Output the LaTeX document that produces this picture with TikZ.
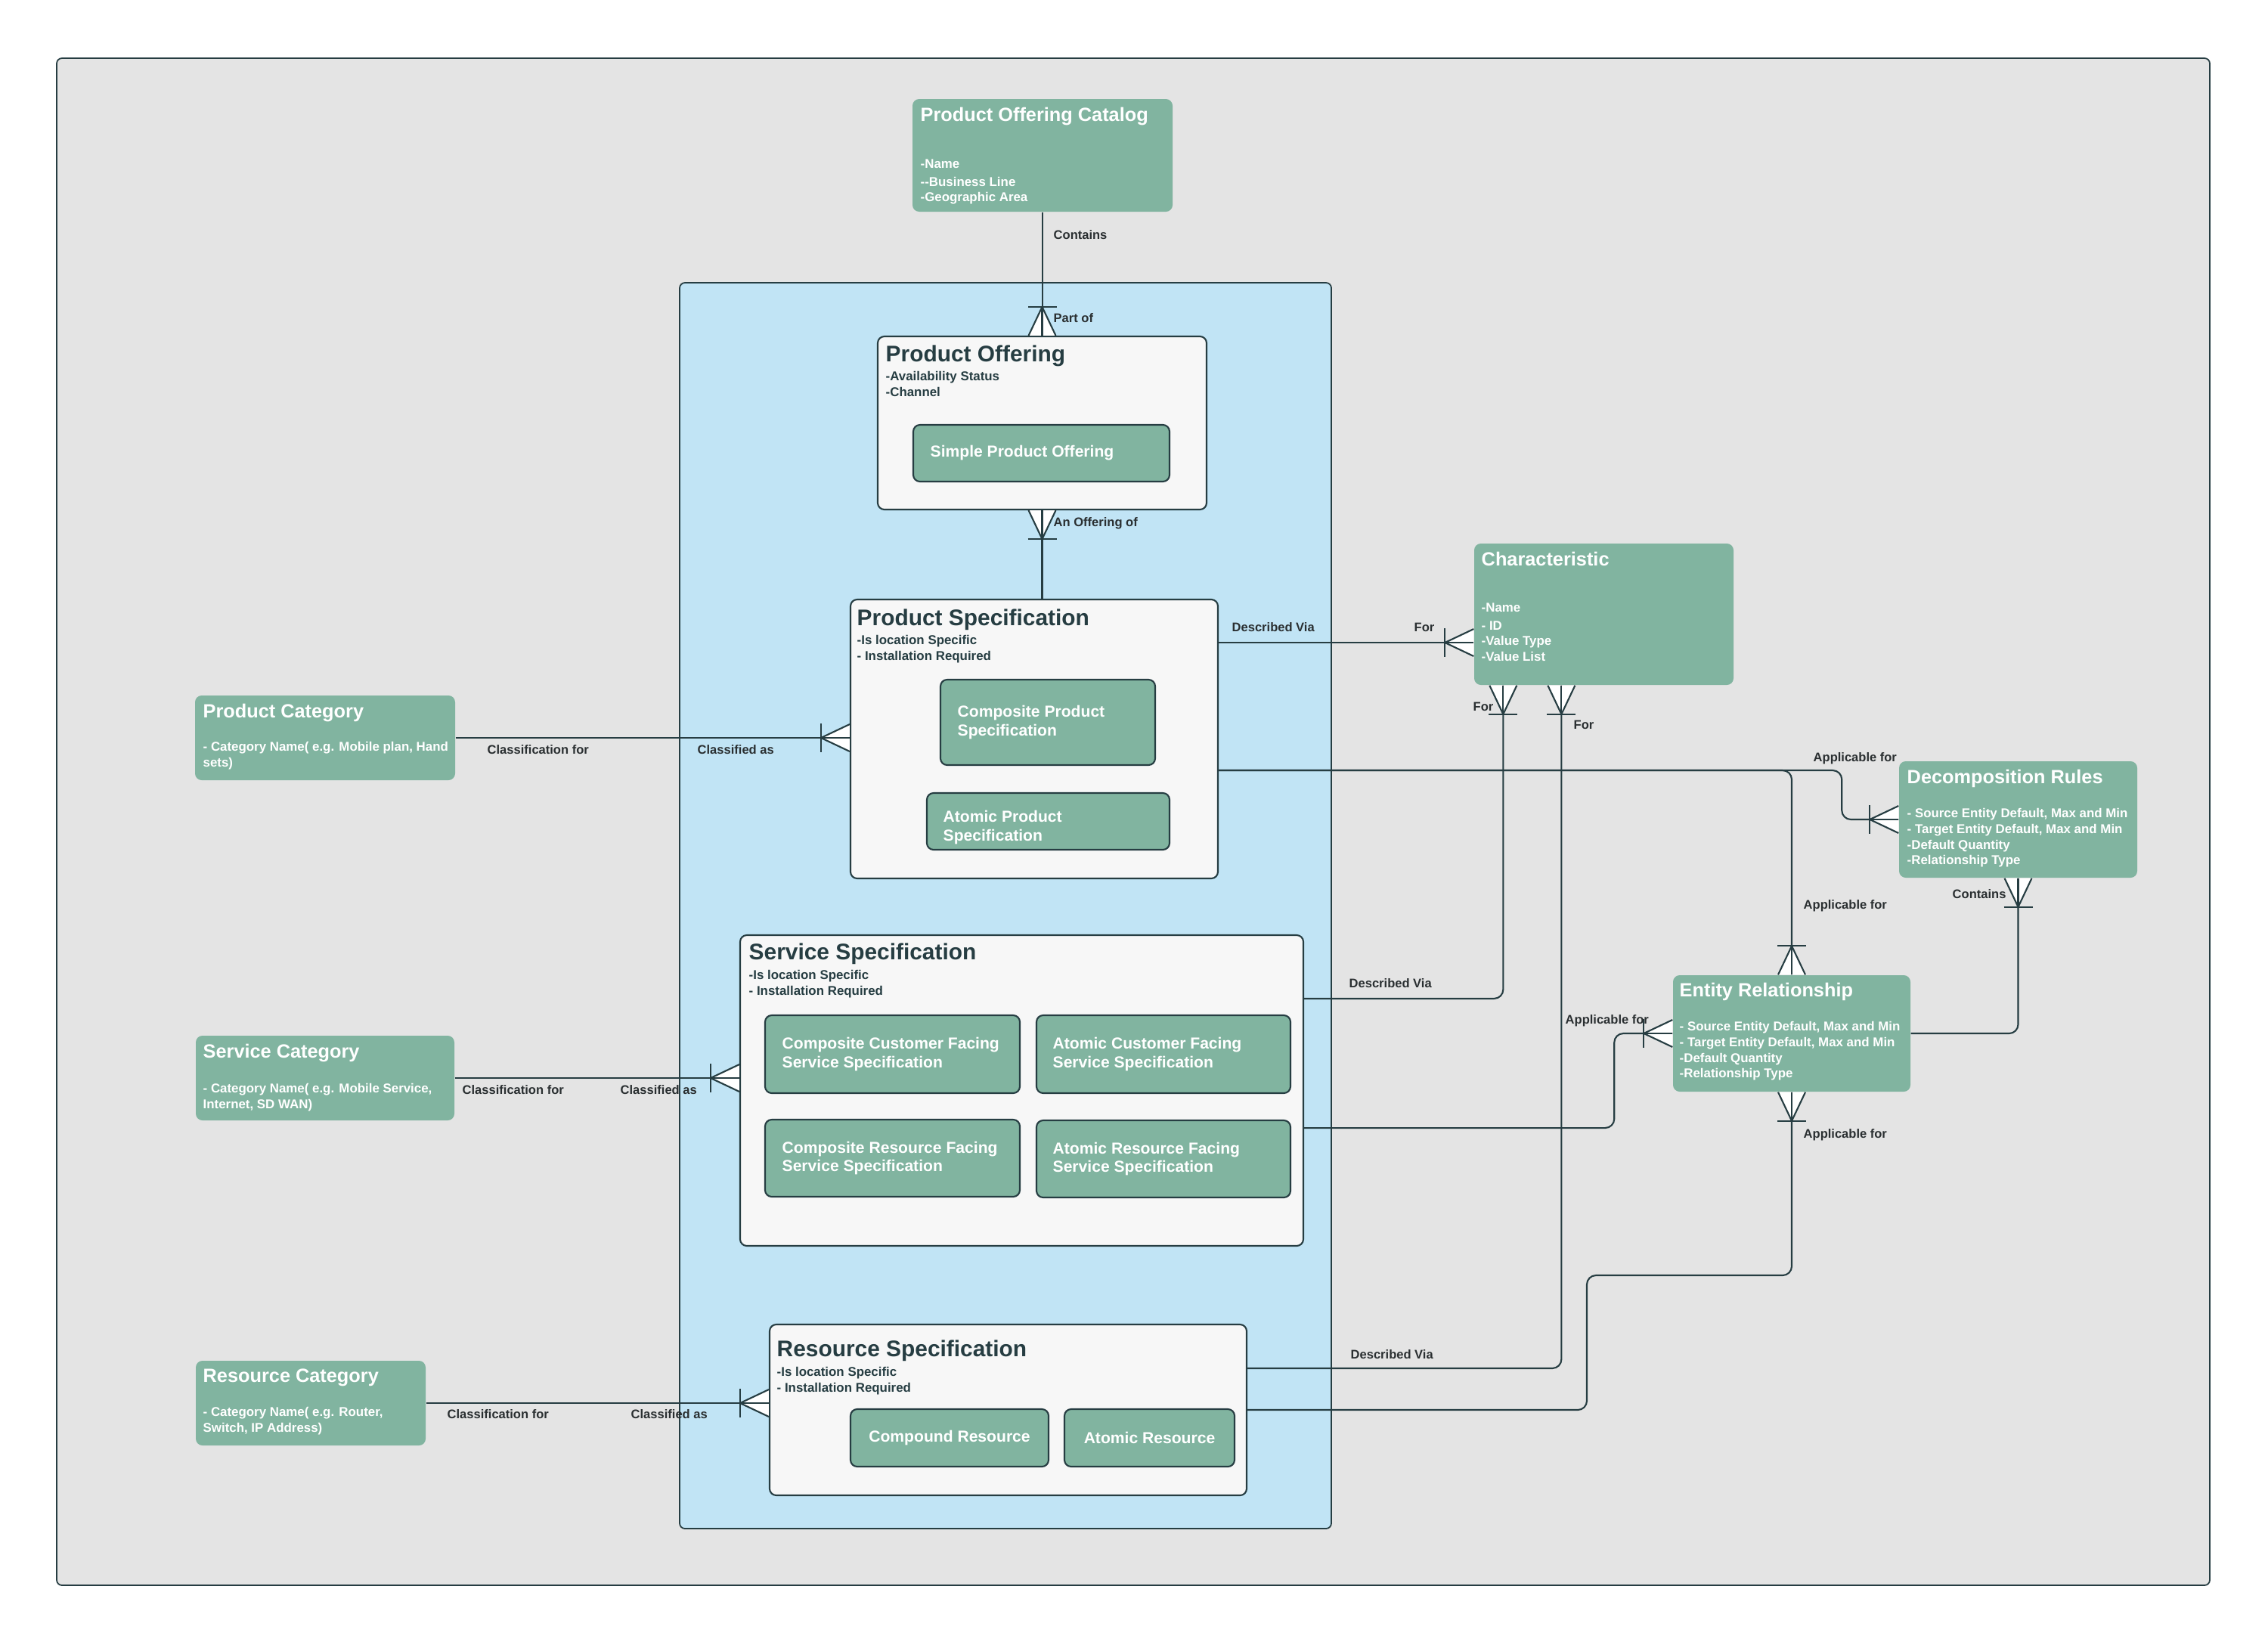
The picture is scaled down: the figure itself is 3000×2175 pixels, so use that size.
\documentclass[tikz,border=0pt]{standalone}
\usepackage{fontspec}
\setmainfont{Liberation Sans}
\usepackage{tikz}
\usetikzlibrary{fit}
\definecolor{framebg}{HTML}{E4E4E4}
\definecolor{poolblue}{HTML}{C1E4F5}
\definecolor{sage}{HTML}{81B4A0}
\definecolor{paper}{HTML}{F7F7F7}
\definecolor{ink}{HTML}{263D42}
\definecolor{labelink}{HTML}{2A2F31}
\tikzset{
  framebox/.style={rectangle,rounded corners=2pt,fill=framebg,draw=ink,line width=0.5pt,inner sep=0pt},
  poolbox/.style={rectangle,rounded corners=2pt,fill=poolblue,draw=ink,line width=0.5pt,inner sep=0pt},
  gbox/.style={rectangle,rounded corners=2.5pt,fill=sage,draw=none,inner sep=0pt},
  sbox/.style={rectangle,rounded corners=2.5pt,fill=sage,draw=ink,line width=0.6pt,inner sep=0pt},
  wbox/.style={rectangle,rounded corners=2.5pt,fill=paper,draw=ink,line width=0.6pt,inner sep=0pt},
  gtitle/.style={anchor=base west,inner sep=0pt,text=white,font=\fontsize{7.2}{8.6}\selectfont\bfseries},
  gbody/.style={anchor=north west,inner sep=0pt,align=left,text=white,font=\fontsize{4.8}{5.85}\selectfont\bfseries},
  wtitle/.style={anchor=base west,inner sep=0pt,text=ink,font=\fontsize{8.5}{10}\selectfont\bfseries},
  wbody/.style={anchor=north west,inner sep=0pt,align=left,text=ink,font=\fontsize{4.8}{5.85}\selectfont\bfseries},
  stext/.style={anchor=west,inner sep=0pt,align=left,text=white,font=\fontsize{6}{7.1}\selectfont\bfseries},
  conn/.style={draw=ink,line width=0.6pt,rounded corners=1.2mm},
  foot/.style={draw=ink,line width=0.6pt,fill=white,sharp corners},
  rel/.style={anchor=base west,inner sep=0pt,text=labelink,font=\fontsize{4.7}{5.6}\selectfont\bfseries}
}
% crow's foot at a box edge, #2 = direction pointing away from the box
\newcommand{\crowfoot}[2]{%
  \begin{scope}[shift={#1},rotate=#2]
    \filldraw[foot] (0,18) -- (38,0) -- (0,-18);
    \draw[foot] (0,0) -- (38,0) (38,19) -- (38,-19);
  \end{scope}}

\begin{document}
\begin{tikzpicture}[x=0.01cm,y=-0.01cm]
  \fill[white] (0,0) rectangle (3000,2175);
  \node[framebox, fit={(75,77) (2923,2097)}] (canvas) {};
  \node[poolbox, fit={(899,374) (1761,2022)}] (pool) {};

  % catalog
  \node[gbox, fit={(1207,131) (1551,280)}] (cat) {};
  \node[gtitle] (catT) at (1217,160) {Product Offering Catalog};
  \node[gbody] (catB) at (1217,210) {-Name\\[1pt]-{}-Business Line\\-Geographic Area};

  % product offering
  \node[wbox, fit={(1161,445) (1596,674)}] (po) {};
  \node[wtitle] (poT) at (1171,478) {Product Offering};
  \node[wbody] (poB) at (1171,491) {-Availability Status\\-Channel};
  \node[sbox, fit={(1208,562) (1547,637)}] (spo) {};
  \node[stext] (spoT) at ([xshift=2.3mm]spo.west) {Simple Product Offering};

  % product specification
  \node[wbox, fit={(1125,793) (1611,1162)}] (ps) {};
  \node[wtitle] (psT) at (1133,827) {Product Specification};
  \node[wbody] (psB) at (1133,840) {-Is location Specific\\- Installation Required};
  \node[sbox, fit={(1244,899) (1528,1012)}] (cps) {};
  \node[stext] (cpsT) at ([xshift=2.3mm]cps.west) {Composite Product\\Specification};
  \node[sbox, fit={(1226,1049) (1547,1124)}] (aps) {};
  \node[stext] (apsT) at ([xshift=2.2mm,yshift=-0.8mm]aps.west) {Atomic Product\\Specification};

  % service specification
  \node[wbox, fit={(979,1237) (1724,1648)}] (ss) {};
  \node[wtitle] (ssT) at (990,1269) {Service Specification};
  \node[wbody] (ssB) at (990,1283) {-Is location Specific\\- Installation Required};
  \node[sbox, fit={(1012,1343) (1349,1446)}] (ccfss) {};
  \node[stext] (ccfssT) at ([xshift=2.3mm]ccfss.west) {Composite Customer Facing\\Service Specification};
  \node[sbox, fit={(1371,1343) (1707,1446)}] (acfss) {};
  \node[stext] (acfssT) at ([xshift=2.2mm]acfss.west) {Atomic Customer Facing\\Service Specification};
  \node[sbox, fit={(1012,1481) (1349,1583)}] (crfss) {};
  \node[stext] (crfssT) at ([xshift=2.3mm]crfss.west) {Composite Resource Facing\\Service Specification};
  \node[sbox, fit={(1371,1482) (1707,1584)}] (arfss) {};
  \node[stext] (arfssT) at ([xshift=2.2mm]arfss.west) {Atomic Resource Facing\\Service Specification};

  % resource specification
  \node[wbox, fit={(1018,1752) (1649,1978)}] (rs) {};
  \node[wtitle] (rsT) at (1027,1794) {Resource Specification};
  \node[wbody] (rsB) at (1027,1808) {-Is location Specific\\- Installation Required};
  \node[sbox, fit={(1125,1864) (1387,1940)}] (cres) {};
  \node[stext, anchor=center] (cresT) at (cres.center) {Compound Resource};
  \node[sbox, fit={(1408,1864) (1633,1940)}] (ares) {};
  \node[stext, anchor=center] (aresT) at (ares.center) {Atomic Resource};

  % right side entities
  \node[gbox, fit={(1950,719) (2293,906)}] (char) {};
  \node[gtitle] (charT) at (1959,748) {Characteristic};
  \node[gbody] (charB) at (1959,797) {-Name\\[1pt]- ID\\-Value Type\\-Value List};
  \node[gbox, fit={(2512,1007) (2827,1161)}] (dr) {};
  \node[gtitle] (drT) at (2522,1036) {Decomposition Rules};
  \node[gbody] (drB) at (2522,1069) {- Source Entity Default, Max and Min\\- Target Entity Default, Max and Min\\-Default Quantity\\-Relationship Type};
  \node[gbox, fit={(2213,1290) (2527,1444)}] (er) {};
  \node[gtitle] (erT) at (2221,1318) {Entity Relationship};
  \node[gbody] (erB) at (2221,1351) {- Source Entity Default, Max and Min\\- Target Entity Default, Max and Min\\-Default Quantity\\-Relationship Type};

  % categories
  \node[gbox, fit={(258,920) (602,1032)}] (pcat) {};
  \node[gtitle] (pcatT) at (268,949) {Product Category};
  \node[gbody] (pcatB) at (268,981) {- Category Name( e.g. Mobile plan, Hand\\sets)};
  \node[gbox, fit={(259,1370) (601,1482)}] (scat) {};
  \node[gtitle] (scatT) at (268,1399) {Service Category};
  \node[gbody] (scatB) at (268,1433) {- Category Name( e.g. Mobile Service,\\Internet, SD WAN)};
  \node[gbox, fit={(259,1800) (563,1912)}] (rcat) {};
  \node[gtitle] (rcatT) at (268,1828) {Resource Category};
  \node[gbody] (rcatB) at (268,1861) {- Category Name( e.g. Router,\\Switch, IP Address)};

  % connection points
  \coordinate (charDV) at ([yshift=-3.75mm]char.west);
  \coordinate (charL) at ([xshift=3.9mm]char.south west);
  \coordinate (charR) at ([xshift=11.6mm]char.south west);
  \coordinate (ssDV) at ([yshift=12.15mm]ss.east);
  \coordinate (ssER) at ([yshift=-4.95mm]ss.east);
  \coordinate (rsDV) at ([yshift=5.5mm]rs.east);
  \coordinate (psAP) at ([yshift=-4.15mm]ps.east);
  \coordinate (drBend) at ([xshift=-7.5mm]dr.west);
  \coordinate (erBend) at ([xshift=-7.7mm]er.west);
  \coordinate (rsBend) at (2099,1687);

  \draw[conn] (cat.south) -- (cat.south |- po.north);
  \draw[conn] (po.south) -- (po.south |- ps.north);
  \draw[conn] (charDV -| ps.east) -- (charDV);
  \draw[conn] (pcat.east) -- (pcat.east -| ps.west);
  \draw[conn] (scat.east) -- (scat.east -| ss.west);
  \draw[conn] (rcat.east) -- (rcat.east -| rs.west);
  \draw[conn] (ssDV) -| (charL);
  \draw[conn] (rsDV) -| (charR);
  \draw[conn] (psAP) -| (er.north);
  \draw[conn] (psAP) -| (drBend) -- (dr.west);
  \draw[conn] (ssER) -| (erBend) -- (er.west);
  \draw[conn] (er.east) -| (dr.south);
  \draw[conn] (rs.east) -| (rsBend) -| (er.south);

  \crowfoot{(po.north)}{90}
  \crowfoot{(po.south)}{270}
  \crowfoot{(charDV)}{180}
  \crowfoot{(pcat.east -| ps.west)}{180}
  \crowfoot{(scat.east -| ss.west)}{180}
  \crowfoot{(rcat.east -| rs.west)}{180}
  \crowfoot{(charL)}{270}
  \crowfoot{(charR)}{270}
  \crowfoot{(er.north)}{90}
  \crowfoot{(dr.west)}{180}
  \crowfoot{(er.west)}{180}
  \crowfoot{(dr.south)}{270}
  \crowfoot{(er.south)}{270}

  % relation labels
  \node[rel] (lContains) at (1393,316) {Contains};
  \node[rel] (lPartOf) at (1393,426) {Part of};
  \node[rel] (lOfferingOf) at (1393,696) {An Offering of};
  \node[rel] (lDescPS) at (1629,835) {Described Via};
  \node[rel] (lForL) at (1870,835) {For};
  \node[rel] (lForA) at (1948,940) {For};
  \node[rel] (lForB) at (2081,964) {For};
  \node[rel] (lClsP) at (644,997) {Classification for};
  \node[rel] (lCldP) at (922,997) {Classified as};
  \node[rel] (lClsS) at (611,1447) {Classification for};
  \node[rel] (lCldS) at (820,1447) {Classified as};
  \node[rel] (lClsR) at (591,1876) {Classification for};
  \node[rel] (lCldR) at (834,1876) {Classified as};
  \node[rel] (lDescSS) at (1784,1306) {Described Via};
  \node[rel] (lDescRS) at (1786,1797) {Described Via};
  \node[rel] (lApDR) at (2398,1007) {Applicable for};
  \node[rel] (lApERt) at (2385,1202) {Applicable for};
  \node[rel] (lContDR) at (2582,1188) {Contains};
  \node[rel] (lApERl) at (2070,1354) {Applicable for};
  \node[rel] (lApERb) at (2385,1505) {Applicable for};
\end{tikzpicture}
\end{document}
